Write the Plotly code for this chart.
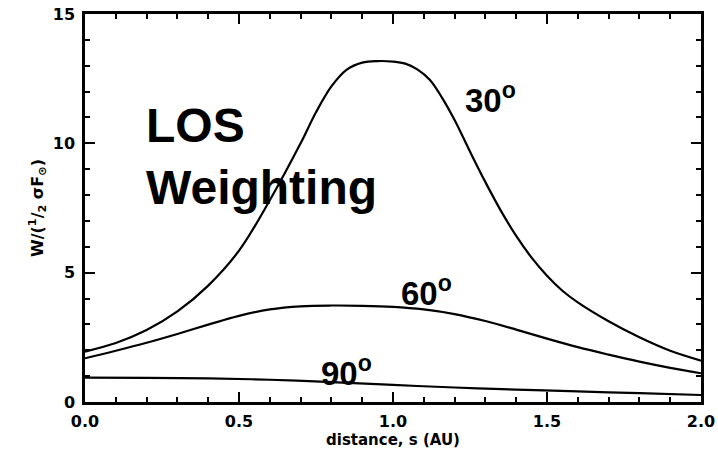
import plotly.graph_objects as go

# --- data ---
x30 = [0.0, 0.1, 0.2, 0.3, 0.4, 0.5, 0.6, 0.7, 0.75, 0.8, 0.85, 0.9, 0.95, 1.0, 1.04,
       1.08, 1.12, 1.16, 1.2, 1.25, 1.3, 1.35, 1.4, 1.45, 1.5, 1.55, 1.6, 1.7, 1.8, 1.9, 2.0]
y30 = [1.95, 2.28, 2.78, 3.5, 4.5, 5.85, 7.8, 10.0, 11.2, 12.2, 12.85, 13.12, 13.18, 13.16, 13.08,
       12.85, 12.45, 11.75, 10.9, 9.68, 8.5, 7.4, 6.42, 5.58, 4.88, 4.3, 3.85, 3.12, 2.5, 1.98, 1.6]

x60 = [0.0, 0.1, 0.2, 0.3, 0.4, 0.5, 0.6, 0.7, 0.8, 0.9, 1.0, 1.1, 1.2, 1.3, 1.4, 1.5,
       1.6, 1.7, 1.8, 1.9, 2.0]
y60 = [1.69, 1.98, 2.29, 2.63, 2.99, 3.33, 3.58, 3.70, 3.73, 3.72, 3.68, 3.58, 3.40, 3.13, 2.80, 2.45,
       2.12, 1.83, 1.56, 1.32, 1.11]

x90 = [0.0, 0.2, 0.4, 0.6, 0.8, 1.0, 1.2, 1.4, 1.6, 1.8, 2.0]
y90 = [0.94, 0.93, 0.91, 0.86, 0.77, 0.66, 0.56, 0.48, 0.41, 0.34, 0.27]

curve_labels = ["30<sup>o</sup>", "60<sup>o</sup>", "90<sup>o</sup>"]
label_x = [1.318, 1.11, 0.85]
label_y = [11.74, 4.3, 1.2]

x_ticks = [0.0, 0.5, 1.0, 1.5, 2.0]
x_ticklabels = ["0.0", "0.5", "1.0", "1.5", "2.0"]
y_ticks = [0, 5, 10, 15]
y_ticklabels = ["0", "5", "10", "15"]

fig = go.Figure()
for xs, ys in [(x30, y30), (x60, y60), (x90, y90)]:
    fig.add_trace(go.Scatter(x=xs, y=ys, mode="lines",
                             line=dict(color="black", width=2.2, shape="spline", smoothing=1.0),
                             showlegend=False, hoverinfo="skip"))

for t, lx, ly in zip(curve_labels, label_x, label_y):
    fig.add_annotation(x=lx, y=ly, text="<b>" + t + "</b>", showarrow=False,
                       font=dict(family="Liberation Sans", size=33, color="black"),
                       xanchor="center", yanchor="middle")

fig.add_annotation(x=0.19, y=9.5, text="<b>LOS<br>Weighting</b>", showarrow=False,
                   align="left", xanchor="left", yanchor="middle",
                   font=dict(family="Liberation Sans", size=48, color="black"))

axis_font = dict(family="DejaVu Sans", size=16, color="black")
fig.update_xaxes(range=[0, 2], tickvals=x_ticks,
                 ticktext=["<b>" + t + "</b>" for t in x_ticklabels],
                 ticks="inside", ticklen=10, tickwidth=2, tickcolor="black",
                 minor=dict(dtick=0.1, ticks="inside", ticklen=5, tickwidth=2, tickcolor="black"),
                 showline=True, linecolor="black", linewidth=2.5, mirror="ticks",
                 showgrid=False, zeroline=False, tickfont=axis_font, ticklabelstandoff=3,
                 automargin=False,
                 title=dict(text="<b>distance, s (AU)</b>", standoff=4,
                            font=dict(family="DejaVu Sans", size=15, color="black")))
fig.update_yaxes(range=[0, 15], tickvals=y_ticks,
                 ticktext=["<b>" + t + "</b>" for t in y_ticklabels],
                 ticks="inside", ticklen=10, tickwidth=2, tickcolor="black",
                 minor=dict(dtick=1, ticks="inside", ticklen=5, tickwidth=2, tickcolor="black"),
                 showline=True, linecolor="black", linewidth=2.5, mirror="ticks",
                 showgrid=False, zeroline=False, tickfont=axis_font, ticklabelstandoff=4,
                 automargin=False,
                 title=dict(text="<b>W/(<sup>1</sup>/<sub>2</sub> σF<sub>⊙</sub>)</b>", standoff=6,
                            font=dict(family="DejaVu Sans", size=16, color="black")))

fig.update_layout(width=718, height=450, margin=dict(l=85, r=17, t=14, b=48),
                  plot_bgcolor="white", paper_bgcolor="white")

fig.write_html("out.html")
